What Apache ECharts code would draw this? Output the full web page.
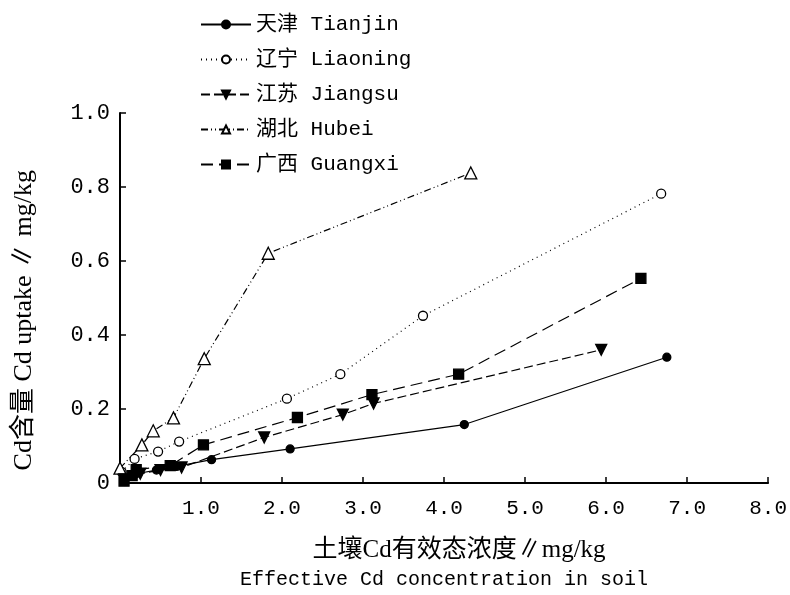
<!DOCTYPE html>
<html>
<head>
<meta charset="utf-8">
<script src="https://cdn.jsdelivr.net/npm/echarts@6/dist/echarts.min.js"></script>
<style>html,body{margin:0;padding:0;background:#fff}#c{width:790px;height:595px}</style>
</head>
<body>
<div id="c"></div>
<script>
const seriesNames = ['天津 Tianjin', '辽宁 Liaoning', '江苏 Jiangsu', '湖北 Hubei', '广西 Guangxi'];
const tianjin = [[0.05,0.01],[0.2,0.025],[0.45,0.035],[0.7,0.045],[1.13,0.063],[2.1,0.092],[4.25,0.158],[6.75,0.34]];
const liaoning = [[0.02,0.03],[0.18,0.065],[0.47,0.085],[0.73,0.112],[2.06,0.228],[2.72,0.294],[3.74,0.452],[6.68,0.782]];
const jiangsu = [[0.05,0.01],[0.25,0.025],[0.5,0.035],[0.76,0.042],[1.78,0.123],[2.75,0.185],[3.13,0.215],[5.94,0.36]];
const hubei = [[0.0,0.04],[0.27,0.103],[0.41,0.141],[0.66,0.176],[1.04,0.336],[1.83,0.621],[4.33,0.838]];
const guangxi = [[0.05,0.005],[0.15,0.02],[0.2,0.036],[0.62,0.047],[1.03,0.103],[2.19,0.177],[3.11,0.239],[4.18,0.294],[6.43,0.553]];
const xTicks = [0,1,2,3,4,5,6,7,8];
const yTicks = [0,0.2,0.4,0.6,0.8,1.0];
const xTitle = '土壤Cd有效态浓度∥mg/kg';
const xTitleEn = 'Effective Cd concentration in soil';
const yTitle = 'Cd含量 Cd uptake ∥ mg/kg';

const latin = '"Liberation Mono","Noto Sans CJK SC",monospace';
const serif = '"Liberation Serif","Noto Sans CJK SC",serif';
const chart = echarts.init(document.getElementById('c'), null, {renderer:'canvas'});
function mk(name, data, symbol, size, filled, dash, rotate){
  return {
    name, type:'line', data, symbol, symbolSize:size, symbolRotate:rotate||0,
    showAllSymbol:true,
    lineStyle:{color:'#000', width:1.2, type:dash},
    itemStyle:{color: filled ? '#000' : '#fff', borderColor:'#000', borderWidth:1.3},
    emphasis:{disabled:true}, animation:false, z: filled?3:2
  };
}
chart.setOption({
  animation:false,
  backgroundColor:'#fff',
  grid:{left:120, right:20, top:113, bottom:110},
  legend:{
    orient:'vertical', left:195, top:9, itemWidth:50, itemHeight:10, itemGap:14,
    textStyle:{fontFamily:latin, fontSize:21, color:'#000'},
    data:seriesNames
  },
  graphic:[{
    type:'text', left:11, top:170, rotation:Math.PI/2,
    style:{text:yTitle, fontFamily:serif, fontSize:26, fill:'#000'}
  }],
  xAxis:{
    type:'value', min:xTicks[0], max:xTicks[xTicks.length-1], interval:1,
    axisLine:{lineStyle:{color:'#000', width:2}},
    axisTick:{inside:true, length:6, lineStyle:{color:'#000', width:1.5}},
    splitLine:{show:false},
    axisLabel:{showMinLabel:false, margin:15, color:'#000', fontFamily:latin, fontSize:21,
      formatter:v=>v.toFixed(1)},
    name: '{a|' + xTitle + '}\n{b|' + xTitleEn + '}',
    nameLocation:'middle', nameGap:52,
    nameTextStyle:{color:'#000', rich:{
      a:{fontFamily:serif, fontSize:25, lineHeight:30, color:'#000', padding:[0,0,0,30]},
      b:{fontFamily:latin, fontSize:20, lineHeight:30, color:'#000'}
    }}
  },
  yAxis:{
    type:'value', min:yTicks[0], max:yTicks[yTicks.length-1], interval:0.2,
    axisLine:{lineStyle:{color:'#000', width:2}},
    axisTick:{inside:true, length:6, lineStyle:{color:'#000', width:1.5}},
    splitLine:{show:false},
    axisLabel:{margin:10, color:'#000', fontFamily:latin, fontSize:22,
      formatter:v=> v===0 ? '0' : v.toFixed(1)}
  },
  series:[
    mk(seriesNames[0], tianjin, 'circle', 8, true, 'solid'),
    mk(seriesNames[1], liaoning, 'circle', 9, false, [1,4]),
    mk(seriesNames[2], jiangsu, 'triangle', 11, true, [9,4], 180),
    mk(seriesNames[3], hubei, 'triangle', 12, false, [7,3,1,3,1,3]),
    mk(seriesNames[4], guangxi, 'rect', 10, true, [12,6])
  ]
});
</script>
</body>
</html>
